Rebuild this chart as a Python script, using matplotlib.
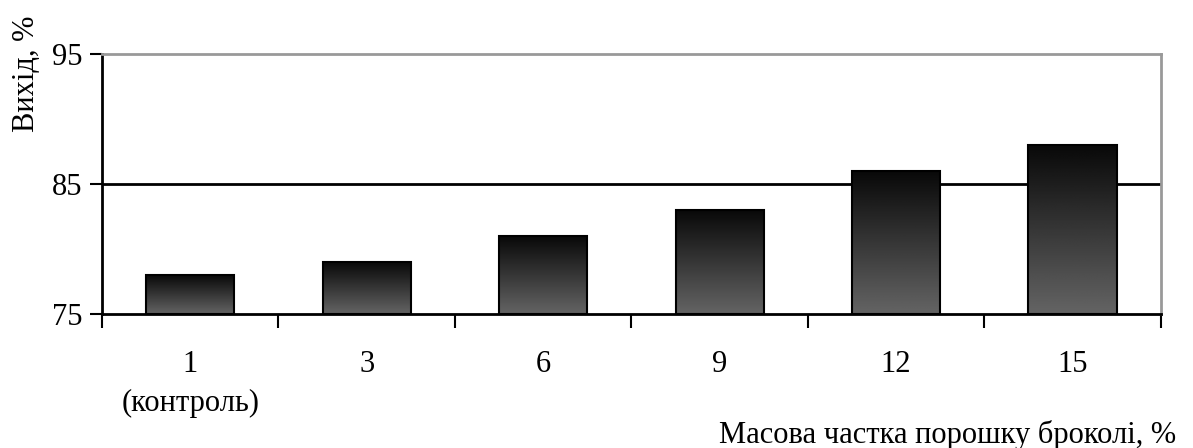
import numpy as np
import matplotlib.pyplot as plt
from matplotlib.ticker import FixedLocator

categories = ["1\n(контроль)", "3", "6", "9", "12", "15"]
values = [78, 79, 81, 83, 86, 88]
y_ticks = [75, 85, 95]

plt.rcParams['font.family'] = ['Liberation Serif', 'DejaVu Serif']

fig = plt.figure(figsize=(11.93, 4.48), dpi=100)
ax = fig.add_axes([0.0855, 0.299, 0.8875, 0.58])

x = np.arange(len(categories))
bars = ax.bar(x, np.array(values) - 75, bottom=75, width=0.5,
              color='none', edgecolor='black', linewidth=1.5, zorder=3)

# vertical gradient inside each bar, dark at top
grad = np.linspace(0, 1, 256).reshape(-1, 1)
for b in bars:
    x0, y0 = b.get_x(), b.get_y()
    w, h = b.get_width(), b.get_height()
    im = ax.imshow(grad, cmap='gray', vmin=-0.1, vmax=2.7, origin='upper',
                   extent=[x0, x0 + w, y0, y0 + h], aspect='auto', zorder=2)
    im.set_clip_path(b)

ax.set_xlim(-0.5, len(categories) - 0.5)
ax.set_ylim(75, 95)
ax.set_aspect('auto')

ax.axhline(85, color='black', linewidth=2, zorder=1)

ax.set_yticks(y_ticks)
ax.set_yticklabels([str(t) for t in y_ticks], fontsize=22)
ax.tick_params(axis='y', direction='out', length=9, width=1.5, pad=5)

ax.set_xticks(x)
ax.set_xticklabels(categories, fontsize=22, linespacing=1.45)
ax.tick_params(axis='x', which='major', length=0, pad=26)
ax.xaxis.set_minor_locator(FixedLocator(np.arange(-0.5, len(categories), 1)))
ax.tick_params(axis='x', which='minor', direction='out', length=10, width=1.5)

for s in ['left', 'bottom']:
    ax.spines[s].set_color('black')
    ax.spines[s].set_linewidth(2)
for s in ['top', 'right']:
    ax.spines[s].set_color('#999999')
    ax.spines[s].set_linewidth(2)

fig.text(0.022, 0.835, "Вихід, %", rotation=90, fontsize=22, ha='center', va='center')
fig.text(0.986, 0.03, "Масова частка порошку броколі, %", fontsize=22, ha='right', va='center')

fig.savefig("out.png", dpi=100)
